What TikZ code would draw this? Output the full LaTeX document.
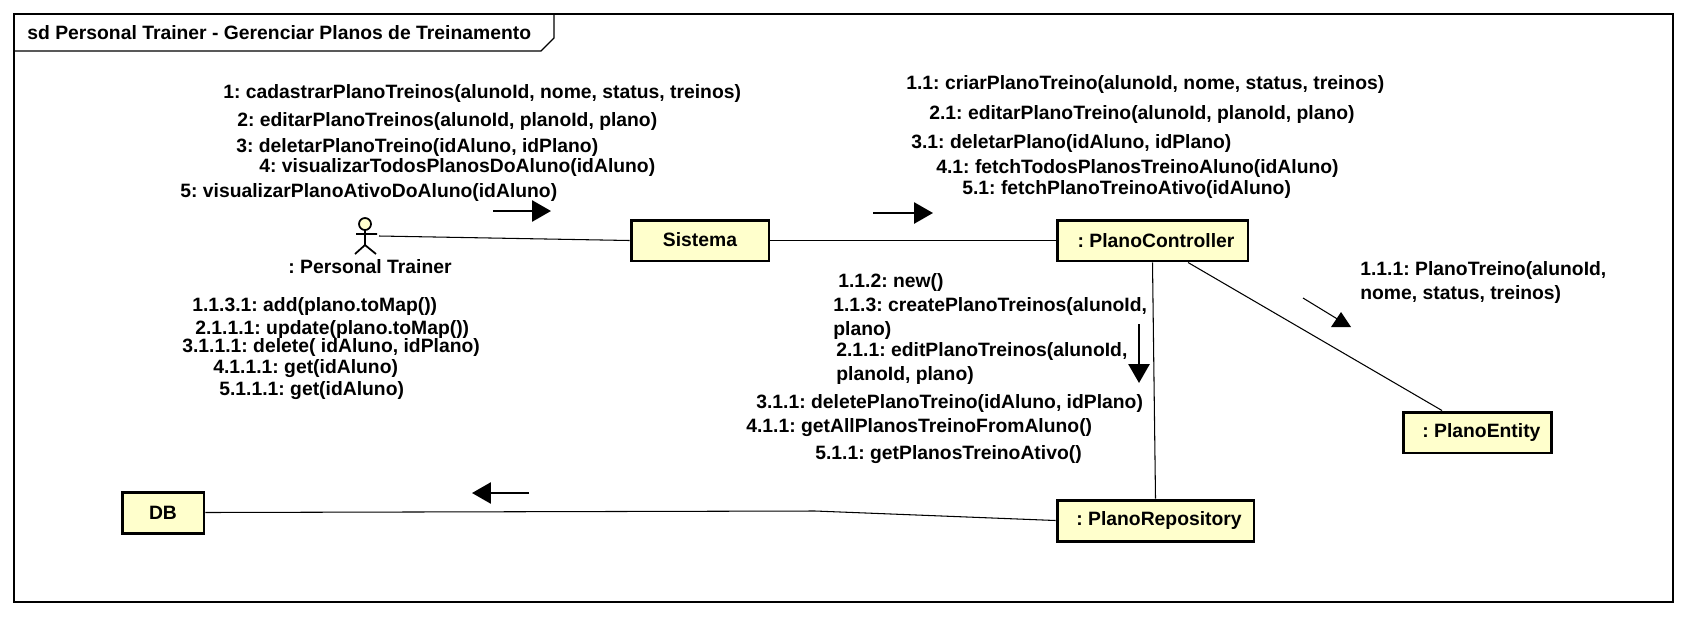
\documentclass[tikz,border=0pt]{standalone}
\usepackage{fontspec}
\setmainfont{Liberation Sans}
\usetikzlibrary{arrows.meta,calc}
\definecolor{boxfill}{HTML}{FFFFCC}
\frenchspacing
\begin{document}
\begin{tikzpicture}[x=0.02cm,y=-0.02cm,line join=miter,line cap=butt]
	\tikzset{
		every node/.style={font=\fontsize{11}{13.6}\selectfont\bfseries},
		obj/.style={draw,fill=boxfill,line width=1.7pt,inner sep=0pt,minimum height=0.82cm},
		msg/.style={anchor=west,inner sep=0pt,align=left},
		link/.style={line width=0.6pt},
		flow/.style={line width=1.4pt,-{Triangle[length=10.8pt,width=12pt]}}
	}
	\useasboundingbox (0,0) rectangle (1686,616);
	% frame
	\draw[line width=0.7pt] (14,14) rectangle (1673,602);
	\draw[line width=0.7pt] (14,51)--(541,51)--(554,38)--(554,14);
	\node[msg] (title) at (27,33) {sd Personal Trainer - Gerenciar Planos de Treinamento};
	% objects
	\node[obj,minimum width=2.76cm] (sistema) at (700,240.5) {\raisebox{1pt}{Sistema}};
	\node[obj,minimum width=3.82cm] (controller) at (1152.5,240.5) {\hspace*{4pt}: PlanoController};
	\node[obj,minimum width=2.96cm] (entity) at (1477,432.5) {\hspace*{5pt}: PlanoEntity};
	\node[obj,minimum width=3.94cm] (repository) at (1155.5,520.5) {\hspace*{4pt}: PlanoRepository};
	\node[obj,minimum width=1.64cm] (db) at (163,512.5) {DB};
	% actor
	\draw[line width=1pt,fill=boxfill] (365,224) circle (6);
	\draw[line width=1pt] (365,230)--(365,245) (356,234)--(377,234) (355,254)--(365,245)--(376,254);
	\node[inner sep=0pt] (trainer) at (370,267) {: Personal Trainer};
	\coordinate (actor) at (379,236);
	\coordinate (bend) at (815,511);
	% links
	\draw[link] (actor)--(sistema.west);
	\draw[link] (sistema.east)--(controller.west);
	\draw[link] (controller.south)--(repository.north);
	\draw[link] ($(controller.south)+(35.5,0)$)--($(entity.north)+(-35,0)$);
	\draw[link] (repository.west)--(bend)--(db.east);
	% message arrows
	\foreach \n/\xa/\ya/\xb/\yb in {one/493/211/551/211,two/873/213/933/213,three/1139/324/1139/383,five/529/493/472/493}{
		\coordinate (\n a) at (\xa,\ya);
		\coordinate (\n b) at (\xb,\yb);
		\draw[flow] (\n a)--(\n b);
	}
	\coordinate (foura) at (1303,298);
	\coordinate (fourb) at (1339,320);
	\draw[link] (foura)--(fourb);
	\fill (1341,312)--(1331,327)--(1351,327)--cycle;
	% messages
	\foreach \n/\x/\y/\t in {
		ma/223/92/{1: cadastrarPlanoTreinos(alunoId, nome, status, treinos)},
		mb/237/120/{2: editarPlanoTreinos(alunoId, planoId, plano)},
		mc/236/146/{3: deletarPlanoTreino(idAluno, idPlano)},
		md/259/166/{4: visualizarTodosPlanosDoAluno(idAluno)},
		me/180/191/{5: visualizarPlanoAtivoDoAluno(idAluno)},
		na/906/83/{1.1: criarPlanoTreino(alunoId, nome, status, treinos)},
		nb/929/113/{2.1: editarPlanoTreino(alunoId, planoId, plano)},
		nc/911/142/{3.1: deletarPlano(idAluno, idPlano)},
		nd/936/167/{4.1: fetchTodosPlanosTreinoAluno(idAluno)},
		ne/962/188/{5.1: fetchPlanoTreinoAtivo(idAluno)},
		oa/1360/280.5/{1.1.1: PlanoTreino(alunoId,\\nome, status, treinos)},
		pa/838/281/{1.1.2: new()},
		pb/833/317/{1.1.3: createPlanoTreinos(alunoId,\\plano)},
		pc/836/361.5/{2.1.1: editPlanoTreinos(alunoId,\\planoId, plano)},
		pd/756/402/{3.1.1: deletePlanoTreino(idAluno, idPlano)},
		pe/746/426/{4.1.1: getAllPlanosTreinoFromAluno()},
		pf/815/453/{5.1.1: getPlanosTreinoAtivo()},
		qa/192/305/{1.1.3.1: add(plano.toMap())},
		qb/195/328/{2.1.1.1: update(plano.toMap())},
		qc/182/346/{3.1.1.1: delete( idAluno, idPlano)},
		qd/213/367/{4.1.1.1: get(idAluno)},
		qe/219/389/{5.1.1.1: get(idAluno)}}
	\node[msg,yshift=-1.1pt] (\n) at (\x,\y) {\t};
\end{tikzpicture}
\end{document}
